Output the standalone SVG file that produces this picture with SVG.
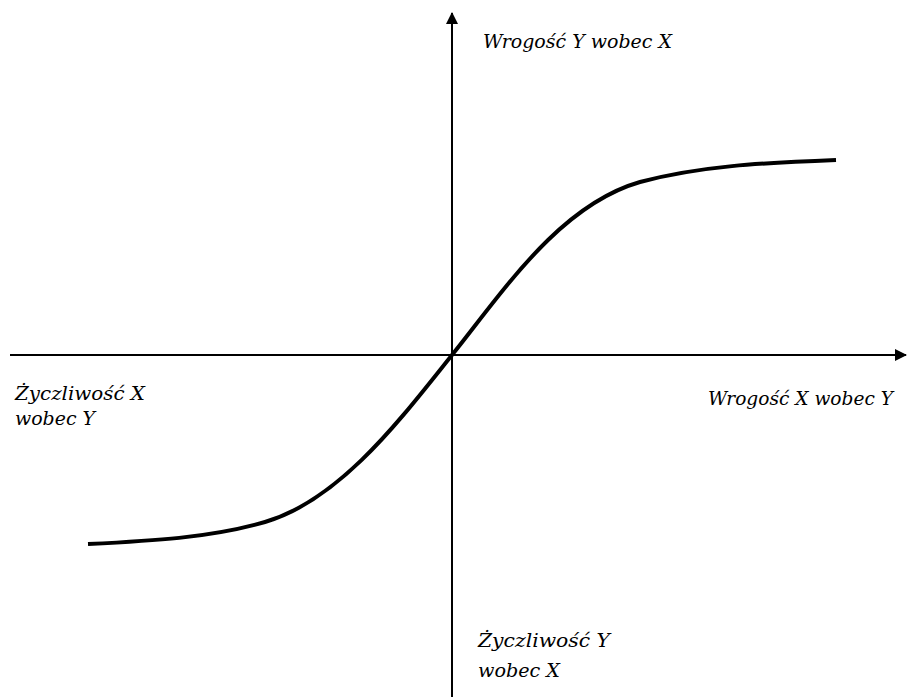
<svg xmlns="http://www.w3.org/2000/svg" width="907" height="697" viewBox="0 0 907 697">
<style>
.lbl{font-family:"DejaVu Serif","Liberation Serif",serif;font-style:italic;font-size:18px;fill:#000}
.axis{stroke:#000;stroke-width:2;fill:none}
.curve{stroke:#000;stroke-width:4;fill:none;stroke-linecap:butt}
</style>
<defs>
<marker id="ah" markerWidth="12" markerHeight="12" refX="11" refY="6" orient="auto" markerUnits="userSpaceOnUse" viewBox="0 0 12 12">
<path d="M0,0 L12,6 L0,12 Z" fill="#000"/>
</marker>
</defs>
<rect width="907" height="697" fill="#fff"/>
<g id="connectors">
<line class="axis" x1="452" y1="697" x2="452" y2="13" marker-end="url(#ah)"/>
<line class="axis" x1="10" y1="355" x2="906" y2="355" marker-end="url(#ah)"/>
<path id="curve" class="curve" d="M88,544 C150,541 210,538 265,522 C340,500 400,420 452,355 C504,290 560,205 640,182 C700,166 760,163 836,160"/>
</g>
<g id="label-top"><text class="lbl" x="483" y="48" textLength="189" lengthAdjust="spacingAndGlyphs">Wrogość Y wobec X</text></g>
<g id="label-left"><text class="lbl" x="15" y="400" textLength="130" lengthAdjust="spacingAndGlyphs">Życzliwość X</text><text class="lbl" x="15" y="425" textLength="80" lengthAdjust="spacingAndGlyphs">wobec Y</text></g>
<g id="label-right"><text class="lbl" x="708" y="405" textLength="185" lengthAdjust="spacingAndGlyphs">Wrogość X wobec Y</text></g>
<g id="label-bottom"><text class="lbl" x="478" y="647" textLength="132" lengthAdjust="spacingAndGlyphs">Życzliwość Y</text><text class="lbl" x="478" y="677" textLength="82" lengthAdjust="spacingAndGlyphs">wobec X</text></g>
</svg>
